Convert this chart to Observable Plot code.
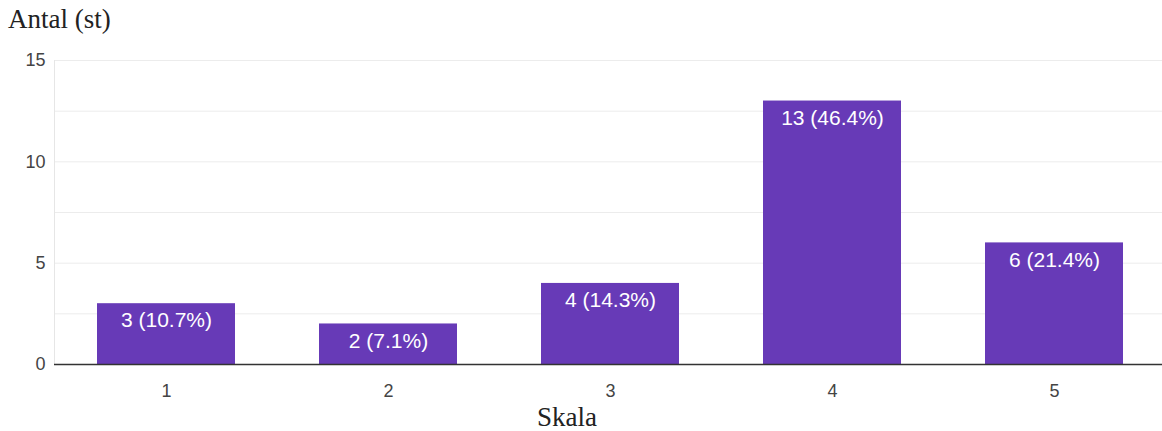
<!DOCTYPE html>
<html>
<head>
<meta charset="utf-8">
<script src="https://cdn.jsdelivr.net/npm/d3@7"></script>
<script src="https://cdn.jsdelivr.net/npm/@observablehq/plot@0.6"></script>
<style>
  body { margin: 0; background: #fff; }
  #chart { position: relative; width: 1162px; height: 431px; overflow: hidden; }
  #chart svg { position: absolute; left: 0; top: 0; }
  .ylab { position: absolute; left: 8px; top: 4px; font: 27px "Liberation Serif", "Times New Roman", serif; color: #222; }
  .xlab { position: absolute; left: 537px; top: 402px; font: 27px "Liberation Serif", "Times New Roman", serif; color: #222; }
</style>
</head>
<body>
<div id="chart">
  <div class="ylab">Antal (st)</div>
  <div class="xlab">Skala</div>
</div>
<script>
// Svar per steg på skalan
const scale = ["1", "2", "3", "4", "5"];
const counts = [3, 2, 4, 13, 6];
const percents = [10.7, 7.1, 14.3, 46.4, 21.4];
const yTicks = [0, 5, 10, 15];
const gridTicks = [0, 2.5, 5, 7.5, 10, 12.5, 15];

const data = scale.map((k, i) => ({
  k,
  n: counts[i],
  label: `${counts[i]} (${percents[i].toFixed(1)}%)`
}));

const font = "'Liberation Sans', Arial, sans-serif";

const chart = Plot.plot({
  width: 1162,
  height: 431,
  marginTop: 60,
  marginBottom: 67,
  marginLeft: 54,
  marginRight: 0,
  style: { fontFamily: font, background: "transparent" },
  x: { domain: scale, range: [54, 1166], paddingInner: 0.38, paddingOuter: 0.19, label: null },
  y: { domain: [0, 15], label: null },
  marks: [
    Plot.gridY(gridTicks, { stroke: "#ececec", strokeOpacity: 1 }),
    Plot.frame({ anchor: "left", stroke: "#e6e6e6" }),
    Plot.axisY(yTicks, { tickSize: 0, tickPadding: 9, fontSize: 18, fill: "#444", label: null }),
    Plot.axisX({ tickSize: 0, tickPadding: 20, fontSize: 18, fill: "#444", label: null }),
    Plot.barY(data, { x: "k", y: "n", fill: "#673ab7" }),
    Plot.ruleY([0], { stroke: "#333", strokeWidth: 1.5 }),
    Plot.text(data, {
      x: "k", y: "n", text: "label",
      dy: 17, fill: "#fff", fontSize: 21, fontFamily: font
    })
  ]
});

document.getElementById("chart").appendChild(chart);
</script>
</body>
</html>
